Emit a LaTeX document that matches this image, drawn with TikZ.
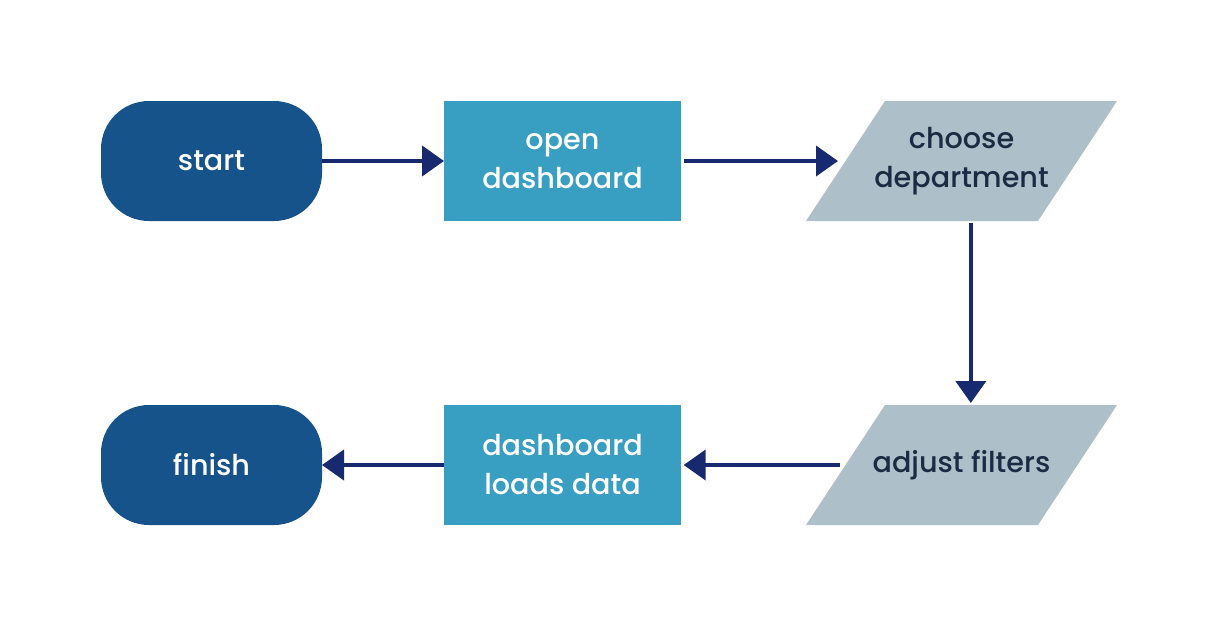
\documentclass[tikz,border=0pt]{standalone}
\usepackage{fontspec}
\setmainfont{Poppins Medium}
\usepackage{tikz}
\usetikzlibrary{arrows.meta}
\usetikzlibrary{shapes.geometric, calc}
\definecolor{termblue}{HTML}{16538A}
\definecolor{procblue}{HTML}{389EC2}
\definecolor{slate}{HTML}{ADBFC9}
\definecolor{navy}{HTML}{172A70}
\definecolor{inktext}{HTML}{1B2B44}

\tikzset{
    terminal/.style={rectangle, rounded corners=36pt, fill=termblue, text=white,
        minimum width=165.75pt, minimum height=90pt, inner sep=0pt, outer sep=0pt,
        font=\fontsize{21.5}{29.25}\selectfont, align=center},
    process/.style={rectangle, fill=procblue, text=white,
        minimum width=177.75pt, minimum height=90pt, inner sep=0pt, outer sep=0pt,
        font=\fontsize{21.5}{29.25}\selectfont, align=center},
    inputbox/.style={rectangle, text=inktext,
        minimum width=233.25pt, minimum height=90pt, inner sep=0pt, outer sep=0pt,
        font=\fontsize{21.5}{29.25}\selectfont, align=center,
        path picture={\fill[slate] (path picture bounding box.south west)
            -- ([xshift=59.25pt]path picture bounding box.north west)
            -- (path picture bounding box.north east)
            -- ([xshift=-59.25pt]path picture bounding box.south east) -- cycle;}},
    flow/.style={draw=navy, line width=3pt, -{Triangle[length=16.5pt, width=22.5pt]}}
}

\begin{document}
\begin{tikzpicture}[x=0.75pt, y=-0.75pt]
            \useasboundingbox (0,0) rectangle (1218,628);

            % Ligne du haut
            \node[terminal] (start) at (211.5,161) {start};
            \node[process] (open) at (562.5,161) {open\\dashboard};
            \node[inputbox] (choose) at (961.5,161) {choose\\department};

            % Ligne du bas
            \node[inputbox] (adjust) at (961.5,465) {adjust filters};
            \node[process] (loads) at (562.5,465) {dashboard\\loads data};
            \node[terminal] (finish) at (211.5,465) {finish};

            % Flèches
            \draw[flow] (start.east) -- (open.west);
            \draw[flow, shorten <=2pt] (open.east) -- ([xshift=24pt]choose.west);
            \draw[flow, shorten <=1.5pt, shorten >=1.5pt] ([xshift=7pt]choose.south) -- ([xshift=7pt]adjust.north);
            \draw[flow, shorten >=2pt] ([xshift=25.5pt]adjust.west) -- (loads.east);
            \draw[flow] (loads.west) -- (finish.east);
        \end{tikzpicture}
\end{document}
